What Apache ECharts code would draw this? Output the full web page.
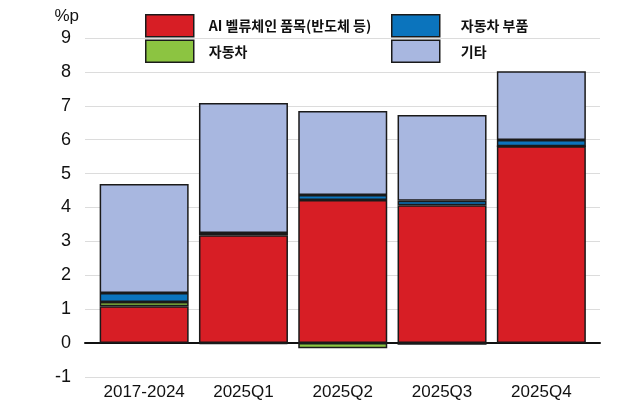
<!DOCTYPE html>
<html>
<head>
<meta charset="utf-8">
<script src="https://cdn.jsdelivr.net/npm/echarts@6/dist/echarts.min.js"></script>
<style>
  html, body { margin: 0; padding: 0; background: #fff; }
  #chart { width: 640px; height: 404px; }
</style>
</head>
<body>
<div id="chart"></div>
<script>
// 데이터
const categories = ['2017-2024', '2025Q1', '2025Q2', '2025Q3', '2025Q4'];
const aiValues = [1.09, 3.18, 4.22, 4.07, 5.81];
const autoValues = [0.12, -0.03, -0.15, -0.05, 0];
const autoPartsValues = [0.27, 0.07, 0.15, 0.13, 0.18];
const otherValues = [3.21, 3.83, 2.48, 2.53, 2.03];
const yTicks = [-1, 0, 1, 2, 3, 4, 5, 6, 7, 8, 9];

const seriesNames = ['AI 벨류체인 품목(반도체 등)', '자동차', '자동차 부품', '기타'];
const seriesColors = ['#d71e25', '#8cc441', '#0b74bd', '#a8b7e0'];

const chart = echarts.init(document.getElementById('chart'));

const font = "'Liberation Sans', Arial, sans-serif";
const krFont = "'Noto Sans CJK KR', sans-serif";

const legendText = (pad) => ({
  fontSize: 14,
  fontWeight: 'bold',
  fontFamily: krFont,
  color: '#111',
  padding: [0, 0, 0, pad]
});

const barSeries = (i, data) => ({
  name: seriesNames[i],
  type: 'bar',
  stack: 'total',
  xAxisIndex: 1,
  yAxisIndex: 1,
  barWidth: 89,
  data: data,
  itemStyle: {
    color: seriesColors[i],
    borderColor: '#1a1a1a',
    borderWidth: 1.5
  }
});

const option = {
  backgroundColor: '#fff',
  animation: false,
  legend: [
    {
      data: [seriesNames[0], seriesNames[1]],
      orient: 'vertical',
      left: 145,
      top: 14,
      padding: 0,
      itemWidth: 48,
      itemHeight: 22,
      itemGap: 2,
      icon: 'rect',
      selectedMode: false,
      itemStyle: { borderColor: '#1a1a1a', borderWidth: 1.5 },
      textStyle: legendText(10)
    },
    {
      data: [seriesNames[2], seriesNames[3]],
      orient: 'vertical',
      left: 391,
      top: 14,
      padding: 0,
      itemWidth: 48,
      itemHeight: 22,
      itemGap: 2,
      icon: 'rect',
      selectedMode: false,
      itemStyle: { borderColor: '#1a1a1a', borderWidth: 1.5 },
      textStyle: legendText(16)
    }
  ],
  grid: [
    { left: 85, right: 40, top: 38, bottom: 27 },
    { left: 94.5, right: 49, top: 38, bottom: 27 }
  ],
  xAxis: [
    {
      type: 'category',
      gridIndex: 0,
      data: categories,
      axisLine: { onZero: true, lineStyle: { color: '#111', width: 2 } },
      axisTick: { show: false },
      axisLabel: { show: false },
      splitLine: { show: false }
    },
    {
      type: 'category',
      gridIndex: 1,
      data: categories,
      axisLine: { show: false },
      axisTick: { show: false },
      axisLabel: {
        interval: 0,
        margin: 7,
        fontSize: 17,
        fontFamily: font,
        color: '#111'
      }
    }
  ],
  yAxis: [
    {
      type: 'value',
      gridIndex: 0,
      min: yTicks[0],
      max: yTicks[yTicks.length - 1],
      interval: 1,
      name: '%p',
      nameLocation: 'end',
      nameGap: 13,
      nameTextStyle: {
        fontSize: 17,
        fontFamily: font,
        color: '#111',
        align: 'right',
        padding: [0, 6, 0, 0]
      },
      axisLine: { show: false },
      axisTick: { show: false },
      axisLabel: {
        margin: 14,
        fontSize: 18,
        fontFamily: font,
        color: '#111'
      },
      splitLine: { lineStyle: { color: '#dcdcdc', width: 1.2 } }
    },
    {
      type: 'value',
      gridIndex: 1,
      min: yTicks[0],
      max: yTicks[yTicks.length - 1],
      interval: 1,
      show: false,
      splitLine: { show: false }
    }
  ],
  series: [
    barSeries(0, aiValues),
    barSeries(1, autoValues),
    barSeries(2, autoPartsValues),
    barSeries(3, otherValues)
  ]
};

chart.setOption(option);
</script>
</body>
</html>
